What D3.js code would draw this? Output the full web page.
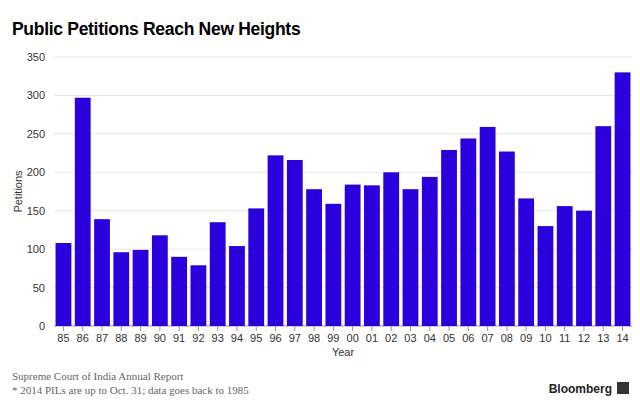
<!DOCTYPE html>
<html><head><meta charset="utf-8">
<script src="https://cdn.jsdelivr.net/npm/d3@7"></script>
<style>
body{margin:0;background:#fff;font-family:"Helvetica Neue",Arial,"Liberation Sans",sans-serif;}
</style></head><body>
<script>
var data = [
	["85",108],["86",297],["87",139],["88",96],["89",99],["90",118],["91",90],["92",79],
	["93",135],["94",104],["95",153],["96",222],["97",216],["98",178],["99",159],["00",184],
	["01",183],["02",200],["03",178],["04",194],["05",229],["06",244],["07",259],["08",227],
	["09",166],["10",130],["11",156],["12",150],["13",260],["14",330]
];
var W = 640, H = 414;
var svg = d3.select("body").append("svg").attr("width", W).attr("height", H);
var m = {left: 54, right: 8, top: 57, bottom: 88};

var x = d3.scaleBand().domain(data.map(function(d){ return d[0]; }))
	.range([m.left, W - m.right]).paddingInner(0.18).paddingOuter(0.08);
var y = d3.scaleLinear().domain([0, 350]).range([H - m.bottom, m.top]);

svg.append("text").attr("x", 12).attr("y", 35).text("Public Petitions Reach New Heights")
	.style("font-size", "17.5px").style("font-weight", "bold").style("letter-spacing", "-0.3px");

// grid
svg.append("g").selectAll("line").data(y.ticks(7)).enter().append("line")
	.attr("x1", m.left).attr("x2", W - m.right)
	.attr("y1", function(d){ return y(d); }).attr("y2", function(d){ return y(d); })
	.attr("stroke", function(d){ return d === 0 ? "#999" : "#e6e6e6"; });

var ya = svg.append("g").attr("transform", "translate(" + (m.left - 6) + ",0)")
	.call(d3.axisLeft(y).ticks(7).tickSize(0));
ya.select(".domain").remove();
ya.selectAll("text").style("font-size", "11px").attr("fill", "#333");

svg.selectAll("rect").data(data).enter().append("rect")
	.attr("x", function(d){ return x(d[0]); })
	.attr("width", x.bandwidth())
	.attr("y", function(d){ return y(d[1]); })
	.attr("height", function(d){ return y(0) - y(d[1]); })
	.attr("fill", "#2a00dd");

var xa = svg.append("g").attr("transform", "translate(0," + y(0) + ")")
	.call(d3.axisBottom(x).tickSize(5));
xa.select(".domain").remove();
xa.selectAll("line").attr("stroke", "#999");
xa.selectAll("text").style("font-size", "11px").attr("fill", "#333");

svg.append("text").attr("x", (m.left + W - m.right) / 2).attr("y", 356).attr("text-anchor", "middle")
	.text("Year").style("font-size", "11px").attr("fill", "#333");
svg.append("text").attr("transform", "translate(22," + ((m.top + H - m.bottom) / 2) + ") rotate(-90)")
	.attr("text-anchor", "middle").text("Petitions").style("font-size", "11px").attr("fill", "#333");

svg.append("text").attr("x", 12).attr("y", 380).text("Supreme Court of India Annual Report")
	.style("font-family", "Liberation Serif, serif").style("font-size", "11px").attr("fill", "#666");
svg.append("text").attr("x", 12).attr("y", 394).text("* 2014 PILs are up to Oct. 31; data goes back to 1985")
	.style("font-family", "Liberation Serif, serif").style("font-size", "11px").attr("fill", "#666");
svg.append("text").attr("x", 612).attr("y", 393).attr("text-anchor", "end").text("Bloomberg")
	.style("font-size", "12px").style("font-weight", "bold").attr("fill", "#222");
svg.append("rect").attr("x", 617).attr("y", 382).attr("width", 12).attr("height", 12).attr("fill", "#333");
</script>
</body></html>
